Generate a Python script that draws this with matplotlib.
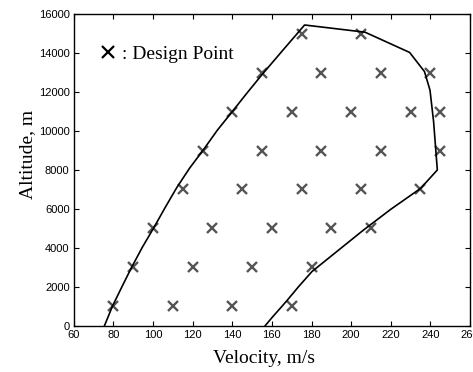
import matplotlib
matplotlib.use("Agg")
import matplotlib.pyplot as plt
from matplotlib.lines import Line2D

# flight envelope boundary (velocity m/s, altitude m)
boundary_v = [75.5, 79.5, 84.3, 89.2, 94.6, 100.2, 106.0, 112.0, 118.5, 125.5,
              132.5, 140.0, 147.0, 155.0, 165.5, 176.5, 207.0, 229.5, 237.0,
              239.8, 241.6, 243.5, 235.0, 220.0, 206.3, 193.0, 180.2, 173.5,
              167.6, 164.6, 160.5, 156.6]
boundary_h = [0, 1000, 2000, 3000, 4030, 5000, 6050, 7100, 8100, 9050,
              10050, 11000, 11900, 12900, 14150, 15450, 15080, 14040, 13060,
              12100, 10500, 8000, 7050, 5980, 4920, 3830, 2780, 2010,
              1290, 940, 470, 0]

# design points
design_v = [80, 110, 140, 170,
            90, 120, 150, 180,
            100, 130, 160, 190, 210,
            115, 145, 175, 205, 235,
            125, 155, 185, 215, 245,
            140, 170, 200, 230, 245,
            155, 185, 215, 240,
            175, 205]
design_h = [1000] * 4 + [3000] * 4 + [5000] * 5 + [7000] * 5 + [9000] * 5 \
    + [11000] * 5 + [13000] * 4 + [15000] * 2

xticks = list(range(60, 261, 20))
yticks = list(range(0, 16001, 2000))

serif = ["Liberation Serif", "DejaVu Serif"]
sans = ["Liberation Sans", "DejaVu Sans"]

fig = plt.figure(figsize=(4.73, 3.72), dpi=100)
ax = fig.add_axes([0.156, 0.1245, 0.8377, 0.8371])

ax.plot(boundary_v, boundary_h, color="black", lw=1.2, zorder=3)
ax.plot(design_v, design_h, ls="none", marker="x", ms=6.5, mew=1.7,
        color="#555555", zorder=2)

ax.set_xlim(60, 260)
ax.set_ylim(0, 16000)
ax.set_xticks(xticks)
ax.set_yticks(yticks)
ax.tick_params(direction="in", top=True, right=True, length=3.5, width=0.8,
               labelsize=8, pad=3)
for lab in ax.get_xticklabels() + ax.get_yticklabels():
    lab.set_family(sans)
for s in ax.spines.values():
    s.set_linewidth(1.0)

ax.set_xlabel("Velocity, m/s", family=serif, fontsize=14)
ax.set_ylabel("Altitude, m", family=serif, fontsize=14)
ax.xaxis.set_label_coords(0.479, -0.078)
ax.yaxis.set_label_coords(-0.095, 0.55)

handle = Line2D([], [], ls="none", marker="x", ms=8.5, mew=1.6, color="black")
ax.legend([handle], [": Design Point"], loc="upper left",
          bbox_to_anchor=(0.043, 0.925), frameon=False, handlelength=1.0,
          handletextpad=0.2, borderaxespad=0,
          prop={"family": serif, "size": 14})

fig.savefig("out.png", dpi=100)
